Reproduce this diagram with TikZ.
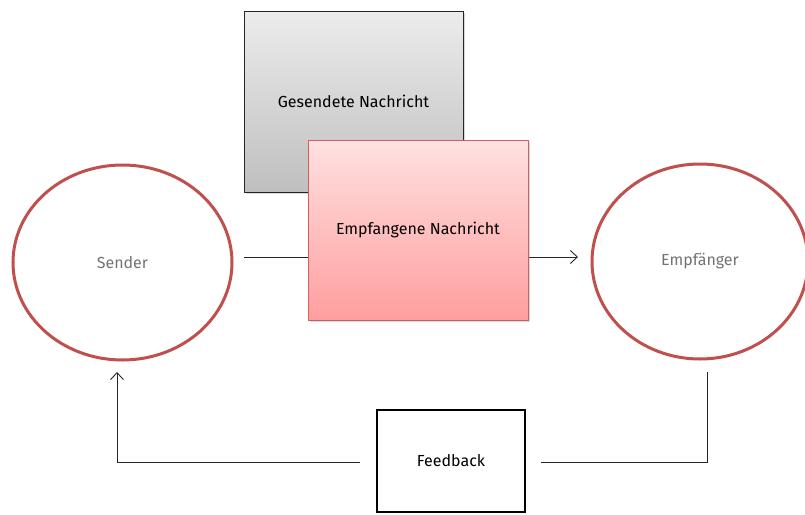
\documentclass[tikz,border=0pt]{standalone}
\usepackage{fontspec}
\setmainfont{Fira Sans}
\usetikzlibrary{arrows.meta,shadows,shapes.geometric}
\definecolor{ellred}{HTML}{C0504D}
\definecolor{pinkborder}{HTML}{D06060}
\begin{document}
\begin{tikzpicture}[x=1pt,y=-1pt,
  every node/.style={font=\fontsize{16}{18}\selectfont},
  graybox/.style={draw=black!85,line width=1pt,top color=gray!15,bottom color=gray!50,
    minimum width=219pt,minimum height=181pt,inner sep=0pt,
    drop shadow={shadow xshift=1.5pt,shadow yshift=-1.5pt,opacity=0.3}},
  pinkbox/.style={draw=pinkborder,line width=1pt,top color=red!12,bottom color=red!38,
    minimum width=220pt,minimum height=180pt,inner sep=0pt,
    drop shadow={shadow xshift=1.5pt,shadow yshift=-1.5pt,opacity=0.3}},
  ell/.style={ellipse,draw=ellred,line width=3pt,fill=white,text=black!55,inner sep=0pt},
  fbbox/.style={draw=black,line width=2.6pt,fill=white,minimum width=148pt,minimum height=102pt,inner sep=0pt},
  conn/.style={draw=black!85,line width=0.9pt},
  tip/.style={-{Straight Barb[length=7pt,width=13pt]}}
]
\clip (0,0) rectangle (805,514);
\fill[white] (0,0) rectangle (805,514);
\node[ell,minimum width=219pt,minimum height=195pt] (s) at (122.5,262.5) {Sender};
\node[ell,minimum width=216pt,minimum height=195pt] (e) at (700,261.5) {Empfänger};
\coordinate (a1) at (244,257);
\coordinate (a2) at (578,257);
\draw[conn,tip] (a1) -- (a2);
\node[graybox] (g) at (353.5,101.5) {Gesendete Nachricht};
\node[pinkbox] (p) at (418,230) {Empfangene Nachricht};
\node[fbbox] (f) at (451,461) {Feedback};
\coordinate (l1) at (360,462);
\coordinate (l2) at (117,372);
\coordinate (r1) at (541,462);
\coordinate (r2) at (707,372);
\draw[conn,tip] (l1) -| (l2);
\draw[conn] (r1) -| (r2);
\end{tikzpicture}
\end{document}
